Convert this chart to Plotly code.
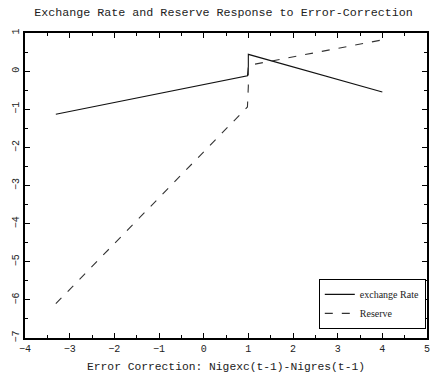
import plotly.graph_objects as go

# Impulse response of the exchange rate and reserves to the error-correction term
exch_x = [-3.31, 0.98, 1.0, 1.0, 4.0]
exch_y = [-1.13, -0.12, 0.12, 0.44, -0.55]

res_x = [-3.31, 0.98, 1.0, 1.0, 4.0]
res_y = [-6.1, -0.94, -0.4, 0.15, 0.82]

x_ticks = [-4, -3, -2, -1, 0, 1, 2, 3, 4, 5]
y_ticks = [1, 0, -1, -2, -3, -4, -5, -6, -7]

mono = "Liberation Mono"

fig = go.Figure()
fig.add_trace(go.Scatter(
    x=exch_x, y=exch_y, mode="lines", name="exchange Rate",
    line=dict(color="#111111", width=1.1),
))
fig.add_trace(go.Scatter(
    x=res_x, y=res_y, mode="lines", name="Reserve",
    line=dict(color="#333333", width=1.1, dash="8px,9px"),
))

axis_common = dict(
    showgrid=False, zeroline=False,
    showline=True, linecolor="black", linewidth=2, mirror="ticks",
    ticks="inside", ticklen=5, tickcolor="black", tickwidth=1,
    minor=dict(ticks="inside", ticklen=3, tickcolor="black", dtick=0.5),
    tickfont=dict(family=mono, size=10, color="#222222"),
)

fig.update_layout(
    width=434, height=385,
    margin=dict(l=25, r=4, t=33, b=47),
    paper_bgcolor="white", plot_bgcolor="white",
    title=dict(
        text="Exchange Rate and Reserve Response to Error-Correction",
        font=dict(family=mono, size=11.7, color="#222222"),
        x=0.515, xanchor="center", y=0.98, yanchor="top",
    ),
    xaxis=dict(
        range=[-4, 5], tickvals=x_ticks,
        ticktext=[str(v).replace("-", "\u2212") for v in x_ticks],
        title=dict(text="Error Correction: Nigexc(t-1)-Nigres(t-1)",
                   font=dict(family=mono, size=11.3, color="#222222"), standoff=8),
        **axis_common,
    ),
    yaxis=dict(
        range=[-7, 1], tickvals=y_ticks,
        ticktext=[str(v).replace("-", "\u2212") for v in y_ticks],
        tickangle=-90,
        **axis_common,
    ),
    legend=dict(
        x=0.997, y=0.03, xanchor="right", yanchor="bottom",
        bgcolor="white", bordercolor="black", borderwidth=1,
        font=dict(family="Liberation Serif", size=10, color="#222222"),
        itemwidth=30, tracegroupgap=0,
    ),
    showlegend=True,
)

fig.write_html("out.html")
